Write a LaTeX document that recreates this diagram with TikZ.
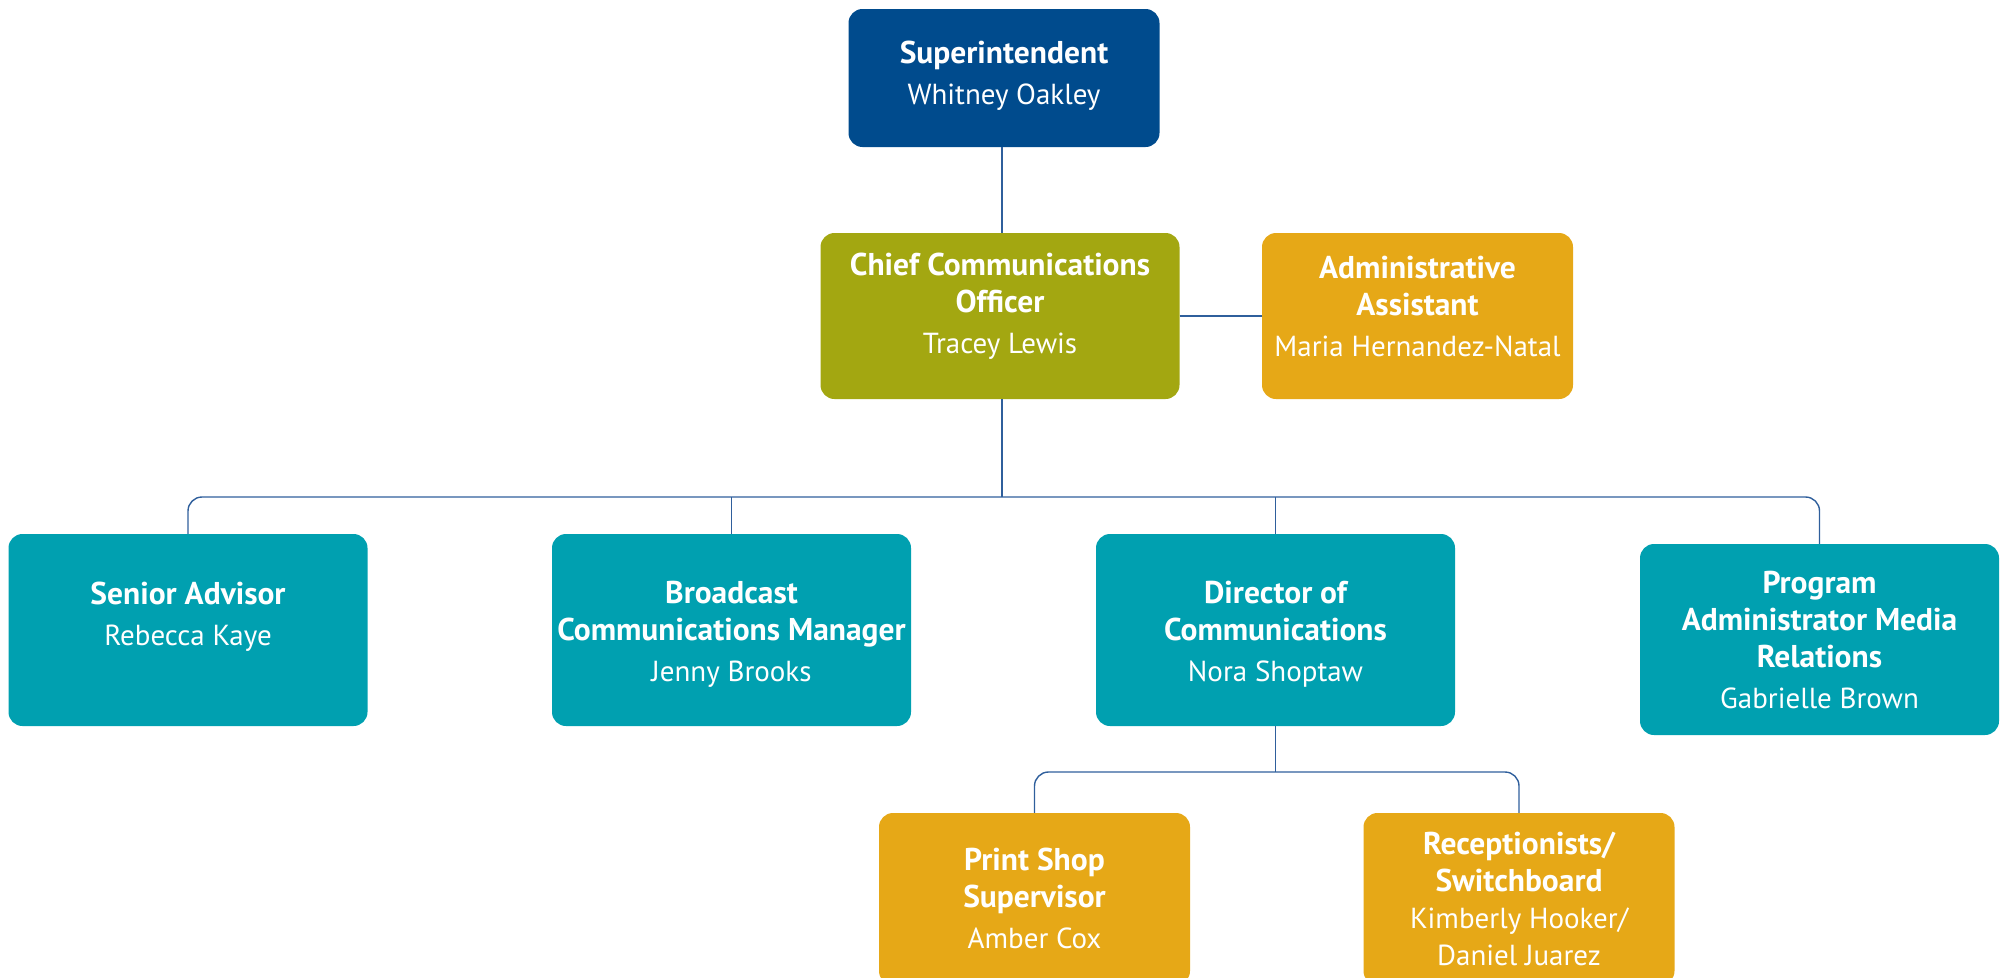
\documentclass[tikz,border=0pt]{standalone}
\usepackage{fontspec}
\setmainfont{PT Sans}
\definecolor{supblue}{HTML}{004B8D}
\definecolor{olivec}{HTML}{A3A711}
\definecolor{goldc}{HTML}{E6A817}
\definecolor{tealc}{HTML}{00A0B0}
\definecolor{linec}{HTML}{2F5F9C}
\newcommand\ttl[1]{{\fontsize{31.5}{37}\selectfont\bfseries #1}}
\newcommand\nm[1]{{\fontsize{29}{37}\selectfont #1}}
\tikzset{
  box/.style={rectangle, rounded corners=14pt, inner sep=0pt, draw=none},
  txt/.style={text=white, align=center, inner sep=0pt, font=\fontsize{29}{37}\selectfont},
  conn/.style={draw=linec, line width=1.4pt},
}
\begin{document}
\begin{tikzpicture}[x=1pt,y=-1pt]
\useasboundingbox (0,0) rectangle (2007,977);
\clip (0,0) rectangle (2007,977);
% boxes
\node[box, fill=supblue, minimum width=311pt, minimum height=138pt] (sup) at (1004,78) {};
\node[box, fill=olivec, minimum width=359pt, minimum height=166pt] (cco) at (1000,316) {};
\node[box, fill=goldc, minimum width=311pt, minimum height=166pt] (adm) at (1417.5,316) {};
\node[box, fill=tealc, minimum width=359pt, minimum height=192pt] (sa) at (188,630) {};
\node[box, fill=tealc, minimum width=359pt, minimum height=192pt] (bcm) at (731.5,630) {};
\node[box, fill=tealc, minimum width=359pt, minimum height=192pt] (dir) at (1275.5,630) {};
\node[box, fill=tealc, minimum width=359pt, minimum height=191pt] (pa) at (1819.5,639.5) {};
\node[box, fill=goldc, minimum width=311pt, minimum height=172pt] (ps) at (1034.5,899) {};
\node[box, fill=goldc, minimum width=311pt, minimum height=172pt] (rec) at (1519,899) {};
% texts
\node[txt] at ([yshift=2pt]sup.center) {\ttl{Superintendent}\\[4pt]\nm{Whitney Oakley}};
\node[txt] at ([yshift=10pt]cco.center) {\ttl{Chief Communications}\\\ttl{Officer}\\[4pt]\nm{Tracey Lewis}};
\node[txt] at ([yshift=10pt]adm.center) {\ttl{Administrative}\\\ttl{Assistant}\\[4pt]\nm{Maria Hernandez-Natal}};
\node[txt] at ([yshift=13pt]sa.center) {\ttl{Senior Advisor}\\[4pt]\nm{Rebecca Kaye}};
\node[txt] at ([yshift=-4pt]bcm.center) {\ttl{Broadcast}\\\ttl{Communications Manager}\\[4pt]\nm{Jenny Brooks}};
\node[txt] at ([yshift=-4pt]dir.center) {\ttl{Director of}\\\ttl{Communications}\\[4pt]\nm{Nora Shoptaw}};
\node[txt] at (pa.center) {\ttl{Program}\\\ttl{Administrator Media}\\\ttl{Relations}\\[4pt]\nm{Gabrielle Brown}};
\node[txt] at ([yshift=1pt]ps.center) {\ttl{Print Shop}\\\ttl{Supervisor}\\[4pt]\nm{Amber Cox}};
\node[txt] at ([yshift=0pt]rec.center) {\ttl{Receptionists/}\\\ttl{Switchboard}\\\nm{Kimberly Hooker/}\\\nm{Daniel Juarez}};
% connectors
\coordinate (bus) at (1002,497);
\coordinate (bus2) at (1275.5,772);
\draw[conn] (sup.south -| bus) -- (cco.north -| bus);
\draw[conn] (cco.east) -- (adm.west);
\draw[conn] (cco.south -| bus) -- (bus);
\draw[conn, rounded corners=14pt] (sa.north) |- (bus) -| (pa.north);
\draw[conn] (bcm.north) -- (bcm.north |- bus);
\draw[conn] (dir.north) -- (dir.north |- bus);
\draw[conn] (dir.south) -- (bus2);
\draw[conn, rounded corners=14pt] (ps.north) |- (bus2) -| (rec.north);
\end{tikzpicture}
\end{document}
